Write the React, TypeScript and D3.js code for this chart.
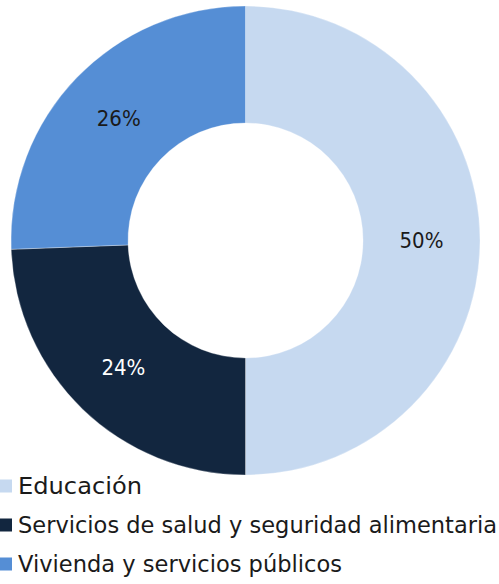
import React from "react";
import * as d3 from "d3";

const categories = ["Educación", "Servicios de salud y seguridad alimentaria", "Vivienda y servicios públicos"];
const values = [50.0, 24.4, 25.6];
const labels = ["50%", "24%", "26%"];
const colors = ["#C6D9F0", "#12263F", "#558ED5"];
const labelColors = ["#1a1a1a", "#ffffff", "#1a1a1a"];
const legendWidths = [124, 479, 324];

const W = 499;
const H = 584;
const cx = 245.5;
const cy = 240.5;
const outerR = 234.5;
const innerR = 117.5;
const FONT = "'DejaVu Sans', Lato, sans-serif";

export default function App() {
  const pie = d3.pie<number>().sort(null).value((d) => d);
  const arcs = pie(values);
  const arc = d3.arc<d3.PieArcDatum<number>>().innerRadius(innerR).outerRadius(outerR);
  const labelArc = d3.arc<d3.PieArcDatum<number>>().innerRadius((innerR + outerR) / 2).outerRadius((innerR + outerR) / 2);
  const legendY = d3.scalePoint<number>().domain([0, 1, 2]).range([486, 564]);

  return (
    <svg width={W} height={H} style={{ position: "absolute", left: 0, top: 0, background: "#fff" }}>
      <g transform={`translate(${cx},${cy})`}>
        {arcs.map((a, i) => (
          <path key={i} d={arc(a) || ""} fill={colors[i]} stroke="#ffffff" strokeWidth={0.5} strokeOpacity={0.6} />
        ))}
        {arcs.map((a, i) => {
          const [x, y] = labelArc.centroid(a);
          return (
            <text key={i} x={x} y={y} dy="0.36em" textAnchor="middle" fill={labelColors[i]} fontFamily={FONT} fontSize={22} textLength={44} lengthAdjust="spacingAndGlyphs">
              {labels[i]}
            </text>
          );
        })}
      </g>
      {categories.map((c, i) => {
        const y = legendY(i) as number;
        return (
          <g key={c}>
            <rect x={0} y={y - 6.5} width={12} height={13} fill={colors[i]} />
            <text x={18} y={y} dy="0.37em" fill="#1a1a1a" fontFamily={FONT} fontSize={22.5} textLength={legendWidths[i]} lengthAdjust="spacingAndGlyphs">
              {c}
            </text>
          </g>
        );
      })}
    </svg>
  );
}
